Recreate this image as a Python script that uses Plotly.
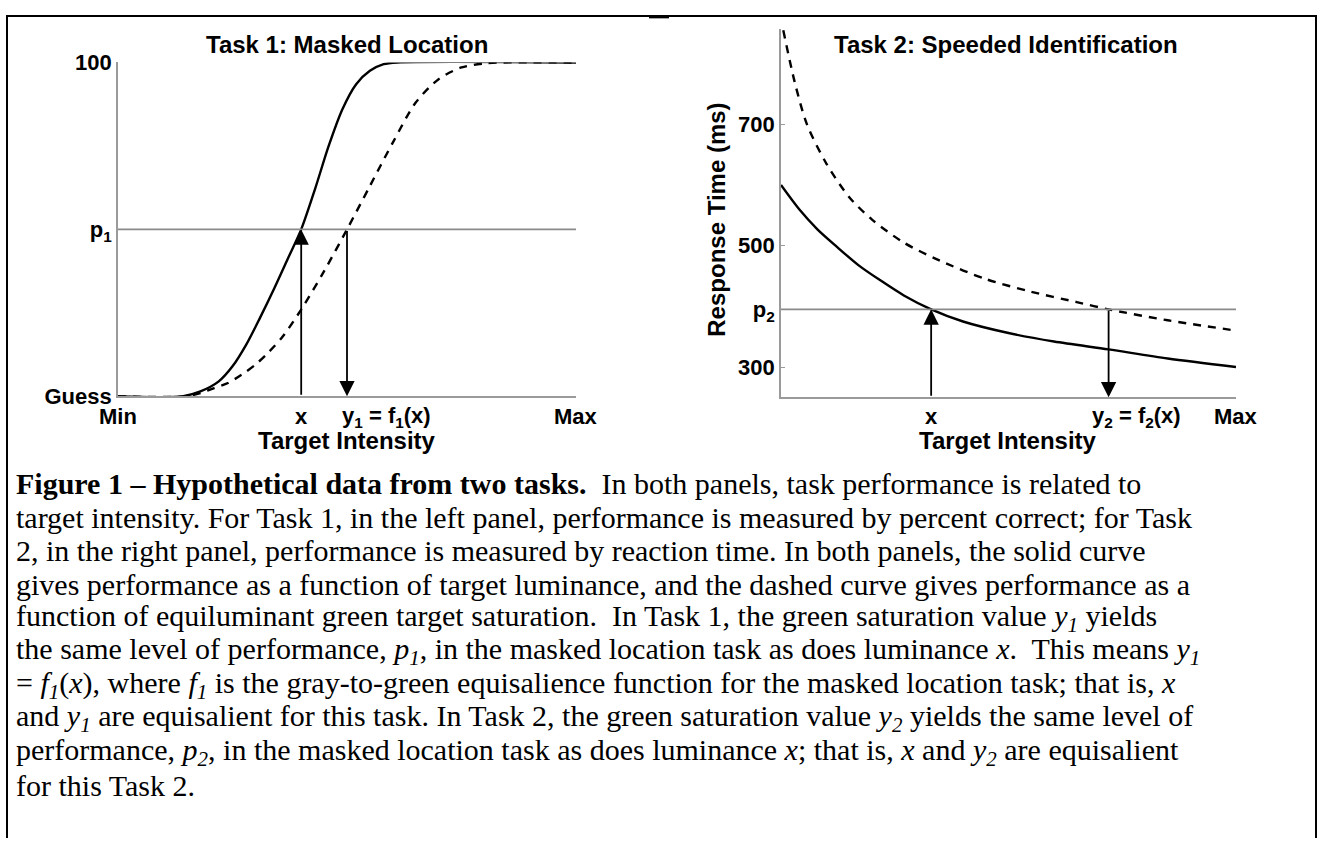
import plotly.graph_objects as go

W, H = 1319, 851

# ---------------- data ----------------
# Task 1 : Masked Location (x: Min=0 .. Max=100, y: Guess=0 .. 100)
t1_solid_x = [0, 14, 18, 22, 25, 28, 31, 34, 37, 40, 43, 46, 49, 52, 55, 58, 61, 100]
t1_solid_y = [0, 0, 1.5, 4.5, 9, 15.5, 23.5, 32, 41, 50, 62, 75, 86, 93.5, 97.5, 99.5, 100, 100]
t1_dash_x = [0, 15, 18, 21, 24, 27, 30, 33, 36, 40, 45, 50, 55, 60, 65, 70, 75, 80, 84, 100]
t1_dash_y = [0, 0, 1, 2.5, 4, 6.5, 9.5, 13.4, 18, 26, 37.5, 50, 63, 76, 88, 95, 98.5, 99.7, 100, 100]
t1_p1 = 50
t1_x_mark = 40
t1_y1_mark = 50

# Task 2 : Speeded Identification (x: 0 .. Max=100, y: RT in ms)
t2_solid_x = [0, 4, 8, 12, 17, 22, 27, 33, 40, 50, 60, 72, 85, 100]
t2_solid_y = [600, 560, 527, 500, 468, 442, 418, 395, 375, 356, 342, 329, 314, 300]
t2_dash_x = [0.5, 3, 5.7, 10, 15, 20, 27, 35, 45, 55, 65, 72, 85, 100]
t2_dash_y = [855, 770, 700, 635, 580, 543, 505, 475, 445, 424, 407, 395, 377, 360]
t2_p2 = 395
t2_x_mark = 33
t2_y2_mark = 72

t1_ytick_vals = [0, t1_p1, 100]
t1_ytick_text = ["Guess", "p<sub>1</sub>", "100"]
t2_ytick_vals = [300, t2_p2, 500, 700]
t2_ytick_text = ["300", "p<sub>2</sub>", "500", "700"]

caption_lines = [
    "<b>Figure 1 \u2013 Hypothetical data from two tasks.</b>  In both panels, task performance is related to",
    "target intensity. For Task 1, in the left panel, performance is measured by percent correct; for Task",
    "2, in the right panel, performance is measured by reaction time. In both panels, the solid curve",
    "gives performance as a function of target luminance, and the dashed curve gives performance as a",
    "function of equiluminant green target saturation.  In Task 1, the green saturation value <i>y<sub>1</sub></i> yields",
    "the same level of performance, <i>p<sub>1</sub></i>, in the masked location task as does luminance <i>x</i>.  This means <i>y<sub>1</sub></i>",
    "= <i>f<sub>1</sub></i>(<i>x</i>), where <i>f<sub>1</sub></i> is the gray-to-green equisalience function for the masked location task; that is, <i>x</i>",
    "and <i>y<sub>1</sub></i> are equisalient for this task. In Task 2, the green saturation value <i>y<sub>2</sub></i> yields the same level of",
    "performance, <i>p<sub>2</sub></i>, in the masked location task as does luminance <i>x</i>; that is, <i>x</i> and <i>y<sub>2</sub></i> are equisalient",
    "for this Task 2.",
]

# ---------------- layout helpers ----------------
def px(x):
    return x / W

def py(y):
    return (H - y) / H

SANS = "Liberation Sans"
SERIF = "Liberation Serif"
AX_GRAY = "#9a9a9a"
TICK = dict(family=SANS, size=22, color="black", weight="bold")
LBL = dict(family=SANS, size=24, color="black", weight="bold")

fig = go.Figure()

line_solid = dict(color="black", width=2.4, shape="spline", smoothing=0.8)
line_dash = dict(color="black", width=2.4, dash="8px,7px", shape="spline", smoothing=0.8)

fig.add_trace(go.Scatter(x=t1_solid_x, y=t1_solid_y, mode="lines", xaxis="x", yaxis="y",
                         line=line_solid, showlegend=False, cliponaxis=False, hoverinfo="skip"))
fig.add_trace(go.Scatter(x=t1_dash_x, y=t1_dash_y, mode="lines", xaxis="x", yaxis="y",
                         line=line_dash, showlegend=False, cliponaxis=False, hoverinfo="skip"))
fig.add_trace(go.Scatter(x=t2_solid_x, y=t2_solid_y, mode="lines", xaxis="x2", yaxis="y2",
                         line=line_solid, showlegend=False, cliponaxis=False, hoverinfo="skip"))
fig.add_trace(go.Scatter(x=t2_dash_x, y=t2_dash_y, mode="lines", xaxis="x2", yaxis="y2",
                         line=line_dash, showlegend=False, cliponaxis=False, hoverinfo="skip"))

common_x = dict(showgrid=False, zeroline=False, showline=True, linecolor=AX_GRAY, linewidth=1.8,
                showticklabels=False, ticks="", range=[0, 100])
common_y = dict(showgrid=False, zeroline=False, showline=True, linecolor=AX_GRAY, linewidth=1.8,
                ticks="inside", ticklen=4, tickcolor=AX_GRAY, tickfont=TICK)

fig.update_layout(
    width=W, height=H,
    margin=dict(l=0, r=0, t=0, b=0),
    paper_bgcolor="white", plot_bgcolor="white",
    xaxis=dict(domain=[px(118), px(576)], anchor="y", **common_x),
    yaxis=dict(domain=[py(396), py(52)], anchor="x", range=[0, 100],
               tickvals=t1_ytick_vals, ticktext=t1_ytick_text, **common_y),
    xaxis2=dict(domain=[px(781), px(1236)], anchor="y2", **common_x),
    yaxis2=dict(domain=[py(397), py(17)], anchor="x2", range=[250, 858],
                tickvals=t2_ytick_vals, ticktext=t2_ytick_text, **common_y),
)

# horizontal performance-level lines
fig.add_shape(type="line", xref="x", yref="y", x0=0, x1=100, y0=t1_p1, y1=t1_p1,
              line=dict(color="#8a8a8a", width=1.8))
fig.add_shape(type="line", xref="x2", yref="y2", x0=0, x1=100, y0=t2_p2, y1=t2_p2,
              line=dict(color="#8a8a8a", width=1.8))

def arrow(xr, yr, x, y_head, y_tail):
    fig.add_annotation(xref=xr, yref=yr, axref=xr, ayref=yr, x=x, y=y_head, ax=x, ay=y_tail,
                       text="", showarrow=True, arrowhead=2, arrowsize=1.7, arrowwidth=1.8,
                       arrowcolor="black", standoff=0, startstandoff=0)

arrow("x", "y", t1_x_mark, t1_p1, 0)
arrow("x", "y", t1_y1_mark, 0, t1_p1)
arrow("x2", "y2", t2_x_mark, t2_p2, 250)
arrow("x2", "y2", t2_y2_mark, 250, t2_p2)

# x tick labels
def xlab(xr, x, text, anchor="center", shift=0):
    fig.add_annotation(xref=xr, yref="paper", x=x, y=py(417), text=text, showarrow=False,
                       xanchor=anchor, yanchor="middle", xshift=shift, font=TICK)

xlab("x", 0, "Min")
xlab("x", t1_x_mark, "x")
xlab("x", t1_y1_mark, "y<sub>1</sub> = f<sub>1</sub>(x)", anchor="left", shift=-7)
xlab("x", 100, "Max")
xlab("x2", t2_x_mark, "x")
xlab("x2", t2_y2_mark, "y<sub>2</sub> = f<sub>2</sub>(x)", anchor="left", shift=-19)
xlab("x2", 100, "Max")

# axis titles and panel titles
for xc in (347, 1008):
    fig.add_annotation(xref="paper", yref="paper", x=px(xc), y=py(441), text="Target Intensity",
                       showarrow=False, xanchor="center", yanchor="middle", font=LBL)
fig.add_annotation(xref="paper", yref="paper", x=px(347), y=py(33), text="Task 1: Masked Location",
                   showarrow=False, xanchor="center", yanchor="middle", font=LBL)
fig.add_annotation(xref="paper", yref="paper", x=px(1006), y=py(33), text="Task 2: Speeded Identification",
                   showarrow=False, xanchor="center", yanchor="middle", font=LBL)
fig.add_annotation(xref="paper", yref="paper", x=px(717), y=py(214), text="Response Time (ms)",
                   showarrow=False, textangle=-90, xanchor="center", yanchor="middle", font=LBL)

# caption
for i, line in enumerate(caption_lines):
    fig.add_annotation(xref="paper", yref="paper", x=px(14), y=py(486 + i * 34.55), text=line,
                       showarrow=False, xanchor="left", yanchor="middle",
                       font=dict(family=SERIF, size=30, color="black"))

# frame
frame = dict(color="black", width=2)
fig.add_shape(type="line", xref="paper", yref="paper", x0=px(6), x1=px(1317), y0=py(4), y1=py(4), line=frame)
fig.add_shape(type="line", xref="paper", yref="paper", x0=px(7), x1=px(7), y0=py(4), y1=py(851), line=frame)
fig.add_shape(type="line", xref="paper", yref="paper", x0=px(1316), x1=px(1316), y0=py(4), y1=py(851), line=frame)
fig.add_shape(type="line", xref="paper", yref="paper", x0=px(649), x1=px(669), y0=py(5), y1=py(5),
              line=dict(color="black", width=3))

page_css = (
    "var s=document.createElement('style');"
    "s.innerHTML='html,body{margin:0!important;padding:0!important;overflow:hidden;"
    "width:1319px;height:851px;}';"
    "document.head.appendChild(s);"
    "var d=document.getElementById('{plot_id}');"
    "d.style.position='absolute';d.style.left='0px';d.style.top='0px';"
)

fig.write_html("out.html", config={"displayModeBar": False}, post_script=page_css)
